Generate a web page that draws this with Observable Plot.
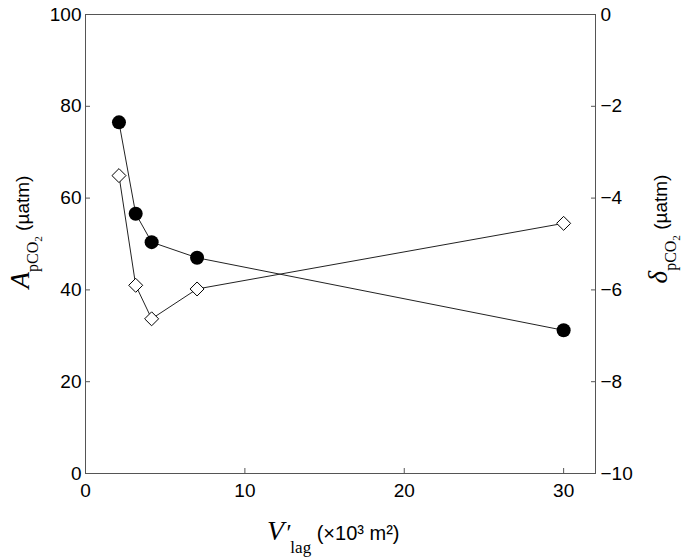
<!DOCTYPE html>
<html><head><meta charset="utf-8">
<script src="https://cdn.jsdelivr.net/npm/d3@7"></script>
<script src="https://cdn.jsdelivr.net/npm/@observablehq/plot@0.6"></script>
<style>body{margin:0;background:#fff}</style>
</head><body><div id="chart"></div>
<script>
// Data
const vlag = [2.1, 3.15, 4.15, 7.0, 30.0];          // V'lag (×10^3 m^2)
const aPco2 = [76.5, 56.6, 50.4, 47.0, 31.2];       // A_pCO2 (µatm), left axis, filled circles
const deltaPco2 = [-3.51, -5.90, -6.63, -5.98, -4.55]; // δ_pCO2 (µatm), right axis, open diamonds
const xTicks = [0, 10, 20, 30];
const leftTicks = [0, 20, 40, 60, 80, 100];
const rightTicks = [-10, -8, -6, -4, -2, 0];

// map right-axis values onto the left scale (−10..0 ↔ 0..100)
const toLeft = d => (d + 10) * 10;
const fromLeft = v => Math.round(v / 10 - 10);

const circles = vlag.map((x, i) => ({x, y: aPco2[i]}));
const diamonds = vlag.map((x, i) => ({x, d: deltaPco2[i]}));
const fmt = d3.format("d");
const axisColor = "#555";

const plot = Plot.plot({
  width: 684, height: 560,
  marginLeft: 85, marginRight: 89, marginTop: 14, marginBottom: 87,
  style: {fontFamily: "'Liberation Sans', Arial, sans-serif", fontSize: "19px", color: "#000", background: "#fff"},
  x: {domain: [0, 32]},
  y: {domain: [0, 100]},
  marks: [
    Plot.frame({stroke: axisColor}),
    Plot.axisX(xTicks, {tickSize: -5, tickPadding: 15, label: null, tickFormat: fmt, stroke: axisColor}),
    Plot.axisY(leftTicks, {anchor: "left", tickSize: -5, tickPadding: 9, label: null, tickFormat: fmt, stroke: axisColor}),
    Plot.axisY(rightTicks.map(toLeft), {anchor: "right", tickSize: -5, tickPadding: 10, label: null, tickFormat: v => fmt(fromLeft(v)), stroke: axisColor}),
    Plot.line(circles, {x: "x", y: "y", stroke: "#222", strokeWidth: 1}),
    Plot.line(diamonds, {x: "x", y: d => toLeft(d.d), stroke: "#222", strokeWidth: 1}),
    Plot.dot(circles, {x: "x", y: "y", r: 7, fill: "#000", stroke: "none"}),
    Plot.dot(diamonds, {x: "x", y: d => toLeft(d.d), symbol: "diamond2", r: 6.3, fill: "#fff", stroke: "#000", strokeWidth: 1})
  ]
});
document.getElementById("chart").appendChild(plot);

const svg = d3.select(plot);
const serif = "'Liberation Serif', 'Times New Roman', serif";
const sans = "'Liberation Sans', Arial, sans-serif";

// Left label
const yl = svg.append("text").attr("transform", "translate(29,232) rotate(-90)").attr("text-anchor", "middle").attr("fill", "#000");
yl.append("tspan").attr("font-family", serif).attr("font-style", "italic").attr("font-size", 27).text("A");
yl.append("tspan").attr("font-family", serif).attr("font-size", 16).attr("dy", 9).text("pCO");
yl.append("tspan").attr("font-family", serif).attr("font-size", 11).attr("dy", 4).text("2");
yl.append("tspan").attr("font-family", sans).attr("font-size", 19).attr("dy", -13).text("\u00a0(µatm)");

// Right label
const yr = svg.append("text").attr("transform", "translate(667,229) rotate(-90)").attr("text-anchor", "middle").attr("fill", "#000");
yr.append("tspan").attr("font-family", serif).attr("font-style", "italic").attr("font-size", 27).text("δ");
yr.append("tspan").attr("font-family", serif).attr("font-size", 16).attr("dy", 9).text("pCO");
yr.append("tspan").attr("font-family", serif).attr("font-size", 11).attr("dy", 4).text("2");
yr.append("tspan").attr("font-family", sans).attr("font-size", 19).attr("dy", -13).text("\u00a0(µatm)");

// X label
const xl = svg.append("text").attr("x", 267).attr("y", 540).attr("text-anchor", "start").attr("fill", "#000");
xl.append("tspan").attr("font-family", serif).attr("font-style", "italic").attr("font-size", 28).text("V");
xl.append("tspan").attr("font-family", serif).attr("font-style", "italic").attr("font-size", 24).attr("dx", 1).text("′");
xl.append("tspan").attr("font-family", serif).attr("font-size", 17).attr("dx", 0).attr("dy", 13).text("lag");
xl.append("tspan").attr("font-family", sans).attr("font-size", 20).attr("dy", -13).text("\u00a0(×10³ m²)");
</script>
</body></html>
